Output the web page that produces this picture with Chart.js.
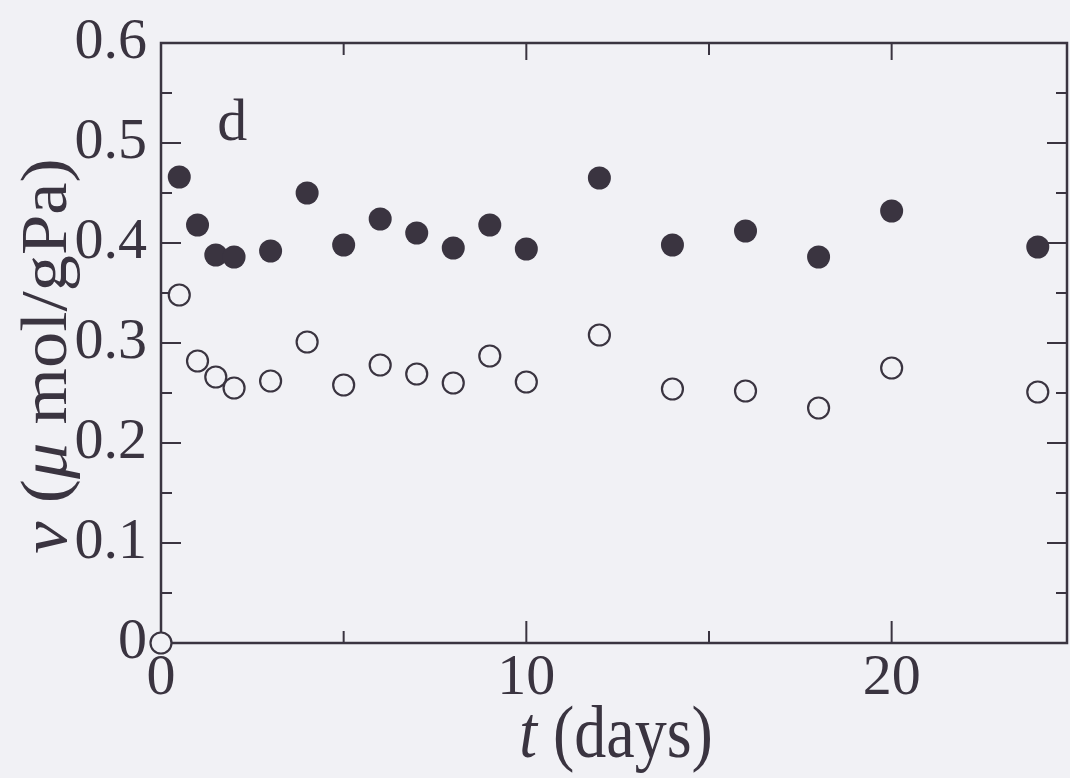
<!DOCTYPE html>
<html>
<head>
<meta charset="utf-8">
<script src="https://cdn.jsdelivr.net/npm/chart.js@4.4.1/dist/chart.umd.min.js"></script>
<style>
html, body { margin: 0; padding: 0; background: #f1f1f5; overflow: hidden; }
#chart { display: block; }
</style>
</head>
<body>
<canvas id="chart" width="1070" height="778"></canvas>
<script>
/* data (panel d) */
var daysFilled = [0.5, 1, 1.5, 2, 3, 4, 5, 6, 7, 8, 9, 10, 12, 14, 16, 18, 20, 24];
var vFilled = [0.466, 0.418, 0.388, 0.386, 0.392, 0.450, 0.398, 0.424, 0.410, 0.395, 0.418, 0.394, 0.465, 0.398, 0.412, 0.386, 0.432, 0.396];

var daysOpen = [0, 0.5, 1, 1.5, 2, 3, 4, 5, 6, 7, 8, 9, 10, 12, 14, 16, 18, 20, 24];
var vOpen = [0, 0.348, 0.282, 0.266, 0.255, 0.262, 0.301, 0.258, 0.278, 0.269, 0.260, 0.287, 0.261, 0.308, 0.254, 0.252, 0.235, 0.275, 0.251];

var xTicks = [0, 5, 10, 15, 20];
var xLabels = [0, 10, 20];
var yTicks = [0, 0.1, 0.2, 0.3, 0.4, 0.5, 0.6];
var yMarks = [0.05, 0.1, 0.15, 0.2, 0.25, 0.3, 0.35, 0.4, 0.45, 0.5, 0.55];
var xMarks = [5, 10, 15, 20];

var ink = '#3a3440';
var bg = '#f1f1f5';
var serif = '"Liberation Serif", "Times New Roman", serif';

function toPoints(xs, ys) {
  return xs.map(function (x, i) { return { x: x, y: ys[i] }; });
}

// draw a run of text pieces, some italic, centred on x
function drawParts(ctx, parts, x, y, size) {
  var total = 0;
  parts.forEach(function (p) {
    ctx.font = (p[1] ? 'italic ' : '') + size + 'px ' + serif;
    total += ctx.measureText(p[0]).width;
  });
  var cx = x - total / 2;
  parts.forEach(function (p) {
    ctx.font = (p[1] ? 'italic ' : '') + size + 'px ' + serif;
    ctx.fillText(p[0], cx, y);
    cx += ctx.measureText(p[0]).width;
  });
}

function line(ctx, x1, y1, x2, y2) {
  ctx.beginPath();
  ctx.moveTo(x1, y1);
  ctx.lineTo(x2, y2);
  ctx.stroke();
}

var framePlugin = {
  id: 'frame',
  beforeDatasetsDraw: function (chart) {
    var ctx = chart.ctx, a = chart.chartArea;
    var xs = chart.scales.x, ys = chart.scales.y;
    ctx.save();
    ctx.strokeStyle = ink;
    ctx.lineWidth = 2.5;
    ctx.strokeRect(a.left, a.top, a.right - a.left, a.bottom - a.top);
    ctx.lineWidth = 2;
    yMarks.forEach(function (v) {
      var py = ys.getPixelForValue(v);
      var major = Math.abs(v * 10 - Math.round(v * 10)) < 1e-6;
      var len = major ? 20 : 11;
      line(ctx, a.left, py, a.left + len, py);
      line(ctx, a.right, py, a.right - len, py);
    });
    xMarks.forEach(function (v) {
      var px = xs.getPixelForValue(v);
      var major = v % 10 === 0;
      line(ctx, px, a.bottom, px, a.bottom - (major ? 22 : 12));
      line(ctx, px, a.top, px, a.top + (major ? 17 : 12));
    });
    ctx.restore();
  },
  afterDraw: function (chart) {
    var ctx = chart.ctx, a = chart.chartArea;
    var xs = chart.scales.x, ys = chart.scales.y;
    ctx.save();
    ctx.fillStyle = ink;
    ctx.textBaseline = 'alphabetic';

    // x title, a bit taller like the scan
    ctx.save();
    ctx.translate(0, 757);
    ctx.scale(1, 1.15);
    drawParts(ctx, [['t', true], [' (days)', false]], (a.left + a.right) / 2 + 2, 0, 64);
    ctx.restore();

    // y title, rotated
    ctx.save();
    ctx.translate(66, (a.top + a.bottom) / 2 + 13);
    ctx.rotate(-Math.PI / 2);
    ctx.scale(1.1, 1);
    drawParts(ctx, [['\u03BD', true], [' (', false], ['\u03BC', true], [' mol/gPa)', false]], 0, 0, 66);
    ctx.restore();

    // panel letter
    ctx.font = '60px ' + serif;
    ctx.textAlign = 'center';
    ctx.fillText('d', xs.getPixelForValue(1.95), ys.getPixelForValue(0.503));
    ctx.restore();
  }
};

var ctx = document.getElementById('chart').getContext('2d');
var chart = new Chart(ctx, {
  type: 'scatter',
  data: {
    datasets: [{
      label: 'filled',
      data: toPoints(daysFilled, vFilled),
      pointStyle: 'circle',
      pointRadius: 11.5,
      pointBorderWidth: 0,
      pointBackgroundColor: ink,
      pointBorderColor: ink,
      clip: false
    }, {
      label: 'open',
      data: toPoints(daysOpen, vOpen),
      pointStyle: 'circle',
      pointRadius: 10.5,
      pointBorderWidth: 2.2,
      pointBackgroundColor: bg,
      pointBorderColor: ink,
      clip: false
    }]
  },
  options: {
    responsive: false,
    animation: false,
    events: [],
    layout: { autoPadding: false, padding: { top: 43, right: 3, left: 0, bottom: 0 } },
    plugins: {
      legend: { display: false },
      tooltip: { enabled: false }
    },
    scales: {
      x: {
        type: 'linear',
        min: 0,
        max: 24.8,
        grid: { display: false, drawTicks: false },
        border: { display: false },
        afterFit: function (scale) {
          scale.height = 135;
          scale.paddingLeft = 0;
          scale.paddingRight = 0;
        },
        afterBuildTicks: function (scale) {
          scale.ticks = xTicks.map(function (v) { return { value: v }; });
        },
        ticks: {
          autoSkip: false,
          maxRotation: 0,
          padding: 1,
          color: ink,
          font: { family: serif, size: 58 },
          callback: function (v) { return xLabels.indexOf(v) >= 0 ? String(v) : ''; }
        }
      },
      y: {
        type: 'linear',
        min: 0,
        max: 0.6,
        grid: { display: false, drawTicks: false },
        border: { display: false },
        afterFit: function (scale) {
          scale.width = 161;
          scale.paddingTop = 0;
          scale.paddingBottom = 0;
        },
        afterBuildTicks: function (scale) {
          scale.ticks = yTicks.map(function (v) { return { value: v }; });
        },
        ticks: {
          padding: 14,
          color: ink,
          font: { family: serif, size: 58 },
          callback: function (v) { return v === 0 ? '0' : v.toFixed(1); }
        }
      }
    }
  },
  plugins: [framePlugin]
});
</script>
</body>
</html>
